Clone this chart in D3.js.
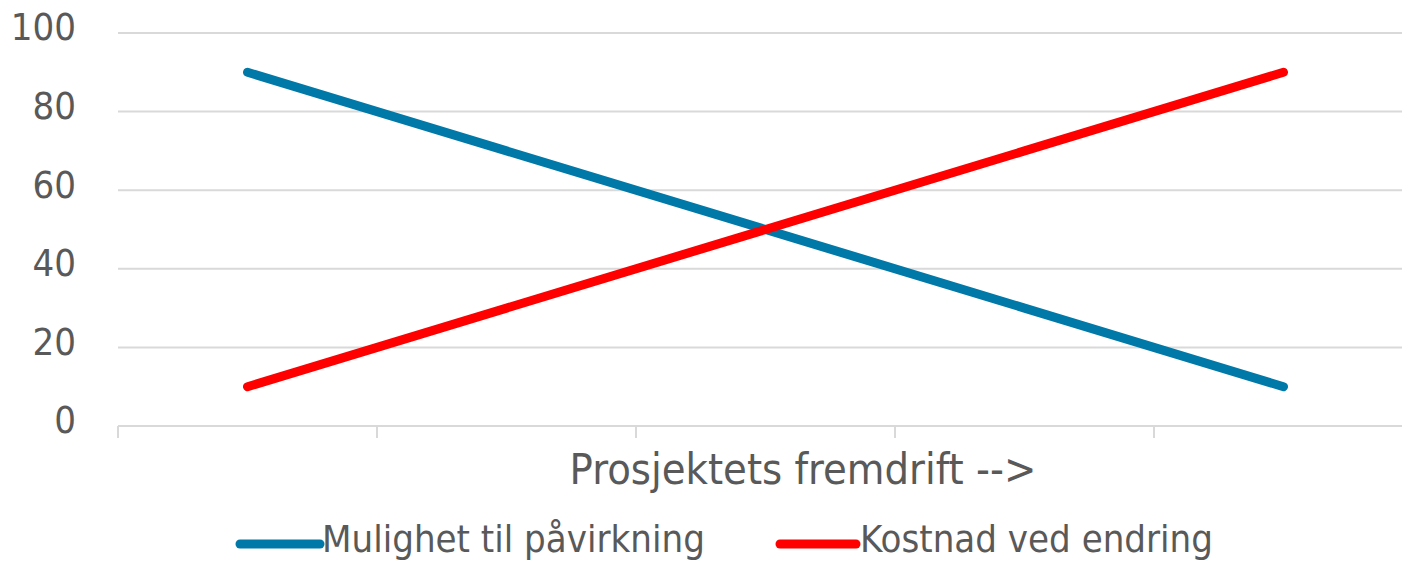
<!DOCTYPE html>
<html>
<head>
<meta charset="utf-8">
<script src="https://cdn.jsdelivr.net/npm/d3@7"></script>
<style>
  body { margin: 0; background: #fff; }
  text { font-family: "Liberation Sans Narrow", "DejaVu Sans Condensed", sans-serif; fill: #595959; }
</style>
</head>
<body>
<div id="chart"></div>
<script>
const categories = ["1", "2", "3", "4", "5"];
const seriesNames = ["Mulighet til påvirkning", "Kostnad ved endring"];
const seriesColors = ["#0079a8", "#ff0000"];
const mulighet = [90, 70, 50, 30, 10];
const kostnad = [10, 30, 50, 70, 90];
const yTicks = [0, 20, 40, 60, 80, 100];
const xTitle = "Prosjektets fremdrift -->";

const width = 1402, height = 561;
const plot = { left: 118, right: 1413, top: 33, bottom: 426 };

const svg = d3.select("#chart").append("svg")
  .attr("width", width)
  .attr("height", height);

const x = d3.scaleBand().domain(categories).range([plot.left, plot.right]);
const y = d3.scaleLinear().domain([0, 100]).range([plot.bottom, plot.top]);

// gridlines
svg.append("g")
  .selectAll("line")
  .data(yTicks)
  .join("line")
  .attr("x1", plot.left)
  .attr("x2", plot.right)
  .attr("y1", d => y(d))
  .attr("y2", d => y(d))
  .attr("stroke", "#d9d9d9")
  .attr("stroke-width", 2);

// y labels
svg.append("g")
  .selectAll("text")
  .data(yTicks)
  .join("text")
  .attr("x", 76)
  .attr("y", d => y(d) - 6)
  .attr("dy", "0.35em")
  .attr("text-anchor", "end")
  .style("font-size", "38px")
  .text(d => d);

// x tick marks at band edges
const edges = categories.map(c => x(c)).concat([plot.right]);
svg.append("g")
  .selectAll("line")
  .data(edges)
  .join("line")
  .attr("x1", d => d)
  .attr("x2", d => d)
  .attr("y1", plot.bottom)
  .attr("y2", plot.bottom + 12)
  .attr("stroke", "#d9d9d9")
  .attr("stroke-width", 2);

// x title
svg.append("text")
  .attr("x", 803)
  .attr("y", 484)
  .attr("text-anchor", "middle")
  .style("font-size", "43px")
  .text(xTitle);

// lines
const line = d3.line()
  .x((d, i) => x(categories[i]) + x.bandwidth() / 2)
  .y(d => y(d));

[mulighet, kostnad].forEach((vals, i) => {
  svg.append("path")
    .datum(vals)
    .attr("d", line)
    .attr("fill", "none")
    .attr("stroke", seriesColors[i])
    .attr("stroke-width", 9)
    .attr("stroke-linecap", "round")
    .attr("stroke-linejoin", "round");
});

// legend
const legendItems = [
  { x1: 240, x2: 320, tx: 322 },
  { x1: 780, x2: 856, tx: 860 }
];
legendItems.forEach((it, i) => {
  svg.append("line")
    .attr("x1", it.x1).attr("x2", it.x2)
    .attr("y1", 544).attr("y2", 544)
    .attr("stroke", seriesColors[i])
    .attr("stroke-width", 9)
    .attr("stroke-linecap", "round");
  svg.append("text")
    .attr("x", it.tx)
    .attr("y", 552)
    .style("font-size", "38px")
    .text(seriesNames[i]);
});
</script>
</body>
</html>
